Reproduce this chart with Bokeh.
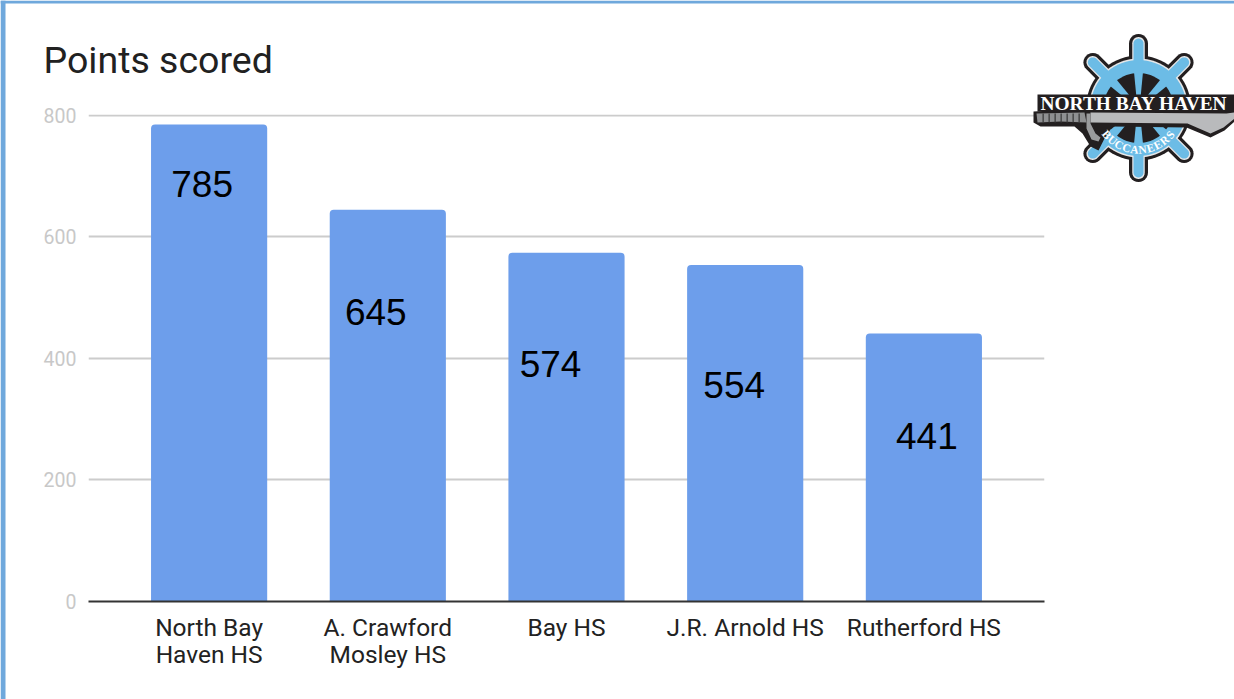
import math
from bokeh.core.properties import value
from bokeh.embed import file_html
from bokeh.models import ColumnDataSource, FactorRange, Range1d
from bokeh.plotting import figure
from bokeh.resources import INLINE

# ---- chart data
schools = ["North Bay\nHaven HS", "A. Crawford\nMosley HS", "Bay HS", "J.R. Arnold HS", "Rutherford HS"]
points = [785, 645, 574, 554, 441]
y_ticks = [0, 200, 400, 600, 800]
title_text = "Points scored"
logo_text = "NORTH BAY HAVEN"
logo_arc_text = "BUCCANEERS"

# ---- label placement (the reference's labels sit at hand-dragged spots), pixels from the bar top
label_dx = [-7, -12, -16, -11, 3]
label_dy = [59, 102, 111, 120, 102]

BAR = "#6d9eeb"
EDGE = "#6fa8dc"
LOGO_BLUE = "#6cbce6"
LOGO_BLACK = "#231f20"
LOGO_GREY = "#b9babc"

p = figure(
    x_range=FactorRange(factors=schools, range_padding=0.07),
    y_range=Range1d(0, 801.6),
    frame_width=956, frame_height=487,
    min_border_left=88, min_border_right=190, min_border_top=114, min_border_bottom=98,
    output_backend="svg", toolbar_location=None,
    title=title_text,
)
p.outline_line_color = None
p.background_fill_color = "white"
p.border_fill_color = "white"

p.title.text_font = "Roboto"
p.title.text_font_size = "37.5px"
p.title.text_font_style = "normal"
p.title.text_color = "#212121"
p.title.align = "left"
p.title.offset = -45
p.title.standoff = 65

p.xgrid.grid_line_color = None
p.ygrid.grid_line_color = "#cccccc"
p.ygrid.grid_line_width = 2
p.ygrid.ticker = y_ticks

p.yaxis.ticker = y_ticks
p.yaxis.axis_line_color = None
p.yaxis.major_tick_line_color = None
p.yaxis.minor_tick_line_color = None
p.yaxis.major_label_standoff = 6
p.yaxis.major_label_text_font = "Roboto"
p.yaxis.major_label_text_font_size = "19.5px"
p.yaxis.major_label_text_color = "#c8c8c8"

p.xaxis.axis_line_color = "#333333"
p.xaxis.axis_line_width = 2
p.xaxis.major_tick_line_color = None
p.xaxis.minor_tick_line_color = None
p.xaxis.major_label_standoff = 5
p.xaxis.major_label_text_font = "Roboto"
p.xaxis.major_label_text_font_size = "24.5px"
p.xaxis.major_label_text_color = "#222222"
p.xaxis.major_label_text_line_height = 0.96
p.xaxis.major_label_orientation = "horizontal"

source = ColumnDataSource(dict(school=schools, points=points, label=[str(v) for v in points],
                               dx=label_dx, dy=label_dy))
p.vbar(x="school", top="points", width=0.65, source=source, fill_color=BAR, line_color=None,
       border_radius=(4, 4, 0, 0))
p.text(x="school", y="points", text="label", x_offset="dx", y_offset="dy", source=source,
       text_font=value("Liberation Sans"), text_font_size=value("37px"), text_color="black",
       text_align="center", text_baseline="middle")

# ---- transparent overlay, one data unit per page pixel, for the page edge and the logo
ov = figure(width=1234, height=699, x_range=Range1d(0, 1234), y_range=Range1d(699, 0),
            x_axis_location=None, y_axis_location=None, min_border=0,
            output_backend="svg", toolbar_location=None)
ov.styles = {"position": "absolute", "left": "0px", "top": "0px"}
ov.outline_line_color = None
ov.background_fill_alpha = 0
ov.border_fill_alpha = 0
ov.grid.visible = False

shapes_x, shapes_y, shapes_c = [], [], []


def poly(pts, fill):
    shapes_x.append([a for a, _ in pts])
    shapes_y.append([b for _, b in pts])
    shapes_c.append(fill)


CX, CY = 1138, 107.5


def disc(r, fill):
    poly([(CX + r * math.cos(t / 72 * 2 * math.pi), CY + r * math.sin(t / 72 * 2 * math.pi)) for t in range(72)], fill)


def stadium(angle, r0, r1, w, fill):
    a = math.radians(angle)
    ux, uy = math.cos(a), -math.sin(a)
    nx, ny = -uy, ux
    pts = [(CX + ux * r0 + nx * w / 2, CY + uy * r0 + ny * w / 2),
           (CX + ux * r0 - nx * w / 2, CY + uy * r0 - ny * w / 2)]
    end = r1 - w / 2
    for i in range(13):
        t = -math.pi / 2 + math.pi * i / 12
        along = math.cos(t) * w / 2
        across = math.sin(t) * w / 2
        pts.append((CX + ux * (end + along) + nx * across, CY + uy * (end + along) + ny * across))
    poly(pts, fill)


def spoke(angle, r0, r1, w0, w1, fill):
    a = math.radians(angle)
    ux, uy = math.cos(a), -math.sin(a)
    nx, ny = -uy, ux
    poly([(CX + ux * r0 + nx * w0 / 2, CY + uy * r0 + ny * w0 / 2),
          (CX + ux * r1 + nx * w1 / 2, CY + uy * r1 + ny * w1 / 2),
          (CX + ux * r1 - nx * w1 / 2, CY + uy * r1 - ny * w1 / 2),
          (CX + ux * r0 - nx * w0 / 2, CY + uy * r0 - ny * w0 / 2)], fill)


# page edge
poly([(0, 0), (1234, 0), (1234, 3), (0, 3)], EDGE)
poly([(0, 0), (5, 0), (5, 699), (0, 699)], EDGE)

# wheel
handle_angles = [90, 45, 135, -45, -135, -90]
for ang in handle_angles:
    stadium(ang, 30, 74, 19, LOGO_BLACK)
disc(52.5, LOGO_BLACK)
for ang in handle_angles:
    stadium(ang, 30, 71, 12.5, "#e6e7e8")
disc(49.5, "#e6e7e8")
for ang in handle_angles:
    stadium(ang, 30, 69.5, 10, LOGO_BLUE)
disc(48, LOGO_BLUE)
disc(35, LOGO_BLACK)
for ang in handle_angles:
    spoke(ang, 10, 36, 4, 9, LOGO_BLUE)

# sword and banner
poly([(1033, 111), (1088, 108), (1234, 108), (1234, 121), (1224, 130), (1210, 137), (1186, 127),
      (1112, 126), (1104, 138), (1098, 150), (1090, 146), (1082, 133), (1074, 126), (1040, 126), (1033, 122)], LOGO_BLACK)
poly([(1037, 94), (1234, 94), (1234, 111), (1037, 111)], LOGO_BLACK)
poly([(1090, 112), (1226, 113), (1234, 112), (1234, 118), (1223, 127), (1210, 133), (1187, 123), (1090, 122)], LOGO_GREY)
poly([(1036, 113), (1084, 112), (1086, 122), (1060, 121), (1037, 122)], "#8f9092")
for rib in [1042, 1048, 1054, 1060, 1066, 1072, 1078]:
    poly([(rib, 113), (rib + 1.3, 113), (rib + 1.3, 122), (rib, 122)], "#3d3d3d")
poly([(1086, 113), (1090, 113), (1090, 123), (1095, 133), (1100, 137), (1098, 141), (1091, 139), (1086, 128)], "#9a9b9d")

ov.patches(shapes_x, shapes_y, fill_color=shapes_c, line_color=None)

serif = dict(text_color="white", text_font=value("Liberation Serif"), text_font_style="bold", text_baseline="middle")
ov.text(x=[1040], y=[103], text=[logo_text], text_font_size=value("19.4px"), text_align="left", **serif)

n = len(logo_arc_text)
arc_deg = [50 - 100 * i / (n - 1) for i in range(n)]  # degrees from straight down, left to right
ov.text(x=[CX - 41.5 * math.sin(math.radians(d)) for d in arc_deg],
        y=[CY + 41.5 * math.cos(math.radians(d)) for d in arc_deg],
        text=list(logo_arc_text), angle=[-d for d in arc_deg], angle_units="deg",
        text_font_size=value("11.5px"), text_align="center", **serif)

open("out.html", "w").write(file_html([p, ov], INLINE))
